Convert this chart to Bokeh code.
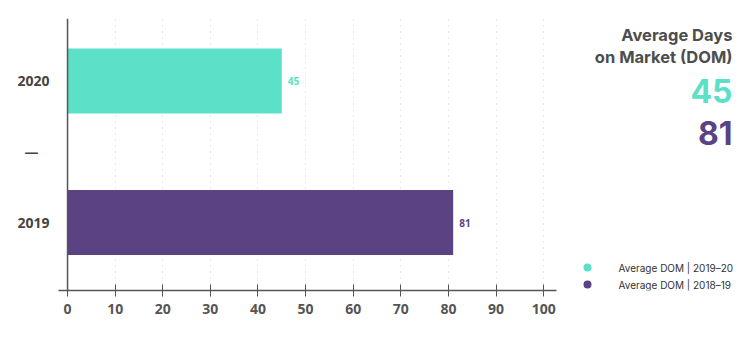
from bokeh.plotting import figure
from bokeh.models import ColumnDataSource, FixedTicker, Span, Range1d
from bokeh.layouts import row
from bokeh.embed import file_html
from bokeh.resources import INLINE
from bokeh.core.properties import value

# ---- data ----
y_labels = ["2019", "—", "2020"]          # bottom to top
years = ["2020", "2019"]
dom = [45, 81]
series = ["Average DOM | 2019–20", "Average DOM | 2018–19"]
colors = ["#5ce0c8", "#5a4283"]
x_ticks = list(range(0, 101, 10))
heading = ["Average Days", "on Market (DOM)"]

ypos = [y_labels.index(y) for y in years]
src = ColumnDataSource(dict(y=ypos, v=dom, c=colors, t=[str(v) for v in dom]))

# ---- main chart ----
p = figure(width=570, height=341, x_range=Range1d(-1.9, 102.7), y_range=Range1d(-0.961, 2.883),
           output_backend="svg", toolbar_location=None,
           min_border_left=58, min_border_right=14, min_border_top=18, min_border_bottom=51)
p.outline_line_color = None
p.background_fill_color = "white"
p.border_fill_color = "white"

p.hbar(y="y", left=0, right="v", height=0.92, fill_color="c", line_color=None, source=src)
p.text(x="v", y="y", text="t", x_offset=6, text_baseline="middle", text_align="left",
       text_font=value("Open Sans"), text_font_style="bold", text_font_size="10px",
       text_color="c", source=src)

p.xgrid.ticker = FixedTicker(ticks=x_ticks[1:])
p.xgrid.grid_line_color = "#d2d2d2"
p.xgrid.grid_line_dash = "1 5"
p.xgrid.grid_line_width = 1
p.ygrid.grid_line_color = None

p.xaxis.ticker = FixedTicker(ticks=x_ticks)
p.xaxis.major_tick_in = 6
p.xaxis.major_tick_out = 6
p.xaxis.minor_tick_line_color = None
p.xaxis.axis_line_color = "#555555"
p.xaxis.axis_line_width = 1.5
p.xaxis.major_tick_line_color = "#555555"
p.xaxis.major_label_text_font = "Open Sans"
p.xaxis.major_label_text_font_style = "bold"
p.xaxis.major_label_text_font_size = "14px"
p.xaxis.major_label_text_color = "#555555"
p.xaxis.major_label_standoff = 7

p.yaxis.ticker = FixedTicker(ticks=list(range(len(y_labels))))
p.yaxis.major_label_overrides = {i: (s if s[0].isdigit() else s + "\u00a0\u00a0\u00a0")
                                 for i, s in enumerate(y_labels)}
p.yaxis.axis_line_color = None
p.yaxis.major_tick_line_color = None
p.yaxis.major_tick_in = 0
p.yaxis.major_tick_out = 0
p.yaxis.minor_tick_line_color = None
p.yaxis.major_label_standoff = 9
p.yaxis.major_label_text_font = "Open Sans"
p.yaxis.major_label_text_font_style = "bold"
p.yaxis.major_label_text_font_size = "14px"
p.yaxis.major_label_text_color = "#444444"

p.add_layout(Span(location=0, dimension="height", line_color="#555555", line_width=1.5))

# ---- side panel (its frame is aligned with the main chart frame: page y 18..290) ----
q = figure(width=181, height=341, x_range=Range1d(0, 181), y_range=Range1d(290, 18),
           output_backend="svg", toolbar_location=None,
           min_border_left=0, min_border_right=0, min_border_top=18, min_border_bottom=51)
q.outline_line_color = None
q.axis.visible = False
q.grid.visible = False

head = ColumnDataSource(dict(x=[162] * len(heading), y=[34, 56], t=heading))
q.text(x="x", y="y", text="t", text_align="right", text_baseline="middle",
       text_font=value("Inter"), text_font_style="bold", text_font_size="16.5px",
       text_color="#4d4d4d", source=head)

big = ColumnDataSource(dict(x=[162] * len(dom), y=[90, 132], t=[str(v) for v in dom], c=colors))
q.text(x="x", y="y", text="t", text_align="right", text_baseline="middle",
       text_font=value("Inter"), text_font_style="bold", text_font_size="32px",
       text_color="c", source=big)

leg = ColumnDataSource(dict(x=[17] * len(series), tx=[48] * len(series), y=[267, 284], t=series, c=colors))
q.scatter(x="x", y="y", size=8, fill_color="c", line_color=None, source=leg)
q.text(x="tx", y="y", text="t", text_align="left", text_baseline="middle",
       text_font=value("Inter"), text_font_size="10px", text_color="#333333", source=leg)

layout = row(p, q)
open("out.html", "w").write(file_html(layout, INLINE))
